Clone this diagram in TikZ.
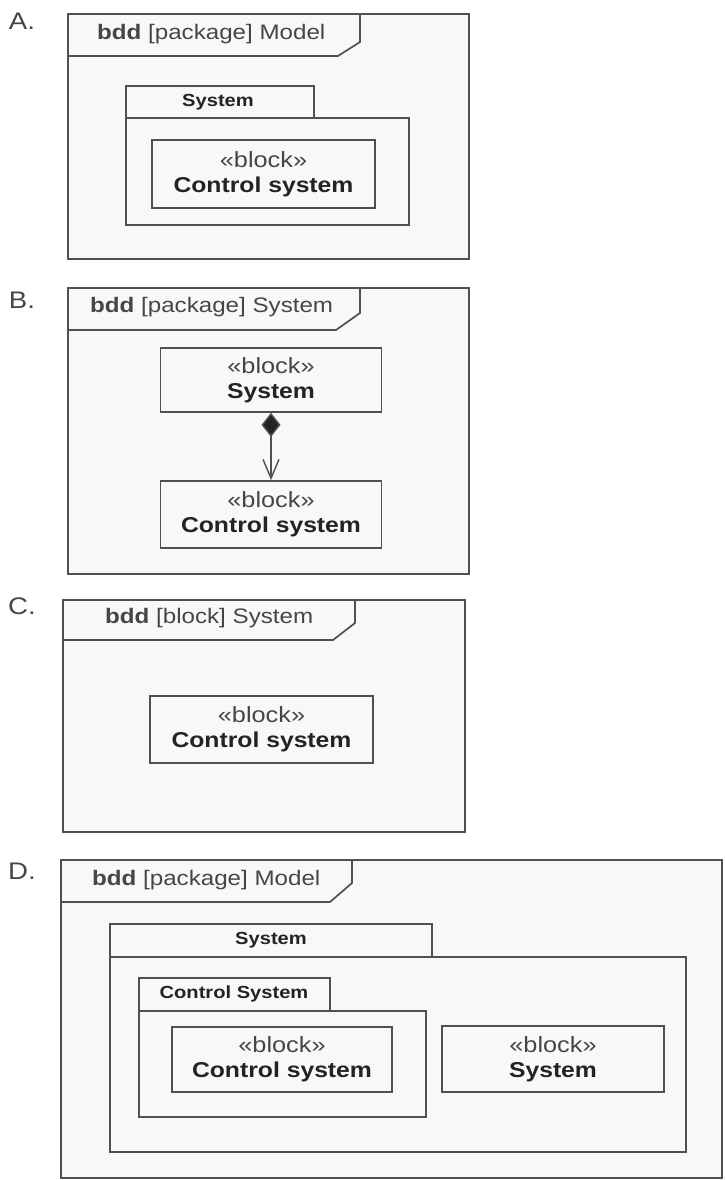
\documentclass[tikz,border=0pt]{standalone}
\usepackage{fontspec}
\setmainfont{Liberation Sans}[FakeStretch=1.15]
\usetikzlibrary{arrows.meta}
\definecolor{linec}{RGB}{80,80,80}
\definecolor{textc}{RGB}{35,35,35}
\definecolor{softc}{RGB}{70,70,70}
\definecolor{bgc}{RGB}{248,248,248}
\tikzset{
  frame/.style={draw=linec, line width=1.7pt, fill=bgc},
  edge/.style={draw=linec, line width=1.7pt},
  blk/.style={draw=linec, line width=1.7pt, fill=bgc, align=center, inner sep=0pt,
    minimum width=221pt, minimum height=66pt, text=textc,
    font=\fontsize{21.5}{25}\selectfont},
  hdr/.style={anchor=west, inner sep=0pt, text=softc, font=\fontsize{21}{25}\selectfont},
  tablbl/.style={inner sep=0pt, text=textc, font=\fontsize{17.5}{20}\selectfont\bfseries},
  plbl/.style={inner sep=0pt, text=softc, font=\fontsize{24}{28}\selectfont}
}
\newcommand{\stereo}{{\color{softc}\fontsize{22}{25}\selectfont«block»}}
\begin{document}
\begin{tikzpicture}[x=1pt,y=-1pt]
  \useasboundingbox (0,0) rectangle (724,1180);

  % A: package Model
  \node[plbl] (labA) at (22,21) {A.};
  \draw[frame] (68,14) rectangle (469,259);
  \draw[edge] (68,56) -- (338,56) -- (360,42) -- (360,14);
  \node[hdr] (hdrA) at (97,34) {\textbf{bdd} [package] Model};
  \draw[frame] (126,86) rectangle (314,118);
  \draw[frame] (126,118) rectangle (409,225);
  \node[tablbl] (tabA) at (218,102) {System};
  \node[blk, minimum width=223pt, minimum height=68pt] (ctlA) at (263.5,174) {\stereo\\\bfseries Control system};

  % B: package System, composition
  \node[plbl] (labB) at (22,300) {B.};
  \draw[frame] (68,288) rectangle (469,574);
  \draw[edge] (68,330) -- (336,330) -- (360,313) -- (360,288);
  \node[hdr] (hdrB) at (90,307) {\textbf{bdd} [package] System};
  \node[blk, minimum height=64pt] (sysB) at (271,380) {\stereo\\\bfseries System};
  \node[blk, minimum height=67pt] (ctlB) at (271,514.5) {\stereo\\\bfseries Control system};
  \draw[draw=linec, line width=1.4pt,
    {Diamond[fill=textc, length=24pt, width=19pt]}-{Straight Barb[length=19pt, width=16pt]}]
    (sysB) -- (ctlB);

  % C: block System
  \node[plbl] (labC) at (22,606) {C.};
  \draw[frame] (63,600) rectangle (465,832);
  \draw[edge] (63,640) -- (333,640) -- (355,623) -- (355,600);
  \node[hdr] (hdrC) at (105,618) {\textbf{bdd} [block] System};
  \node[blk, minimum width=223pt, minimum height=67pt] (ctlC) at (261.5,729.5) {\stereo\\\bfseries Control system};

  % D: nested packages
  \node[plbl] (labD) at (22,871) {D.};
  \draw[frame] (61,860) rectangle (722,1178);
  \draw[edge] (61,902) -- (330,902) -- (352,883) -- (352,860);
  \node[hdr] (hdrD) at (92,880) {\textbf{bdd} [package] Model};
  \draw[frame] (110,924) rectangle (432,957);
  \draw[frame] (110,957) rectangle (686,1152);
  \node[tablbl] (tabD) at (271,940) {System};
  \draw[frame] (139,978) rectangle (330,1011);
  \draw[frame] (139,1011) rectangle (426,1117);
  \node[tablbl] (tabCS) at (234,994) {Control System};
  \node[blk, minimum width=220pt, minimum height=65pt] (ctlD) at (282,1059.5) {\stereo\\\bfseries Control system};
  \node[blk, minimum width=222pt] (sysD) at (553,1059) {\stereo\\\bfseries System};
\end{tikzpicture}
\end{document}
